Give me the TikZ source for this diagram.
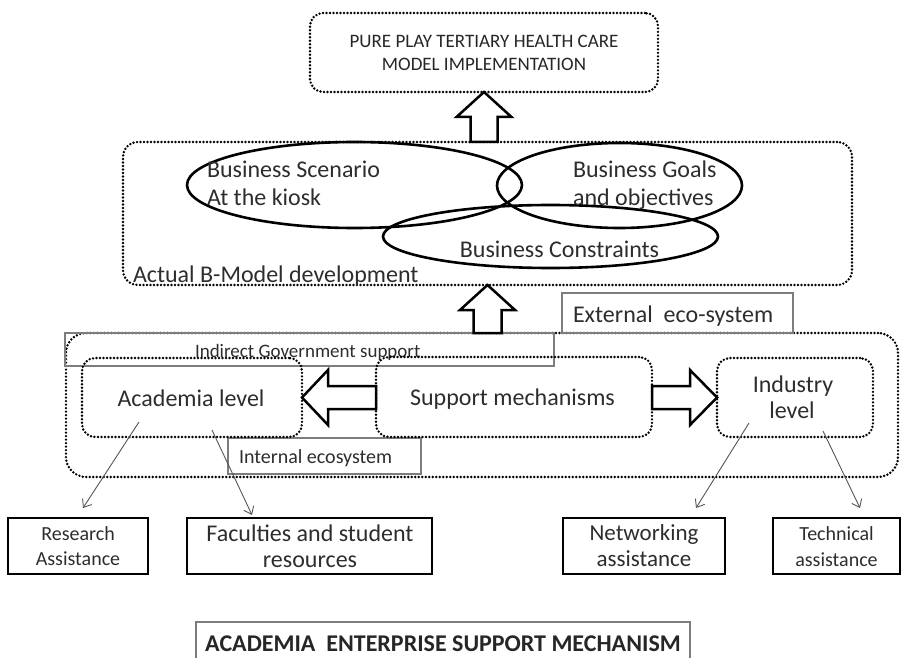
\documentclass[tikz,border=0pt]{standalone}
\usepackage{fontspec}
\setmainfont{Carlito}
\usetikzlibrary{arrows.meta,shapes.geometric,calc}
\definecolor{txt}{RGB}{45,45,45}
\definecolor{thin}{RGB}{125,125,125}
\definecolor{conn}{RGB}{85,85,85}
\begin{document}
\begin{tikzpicture}[x=1pt,y=-1pt,
  every node/.style={inner sep=0pt, outer sep=0pt, text=txt},
  dotbox/.style={draw=black, rectangle, rounded corners=13pt, line width=2.7pt,
     dash pattern=on 0pt off 3.5pt, line cap=round},
  thinbox/.style={draw=thin, rectangle, line width=1.1pt},
  solidbox/.style={draw=black, rectangle, line width=2.6pt},
  ell/.style={draw=black, ellipse, line width=2.6pt},
  harrow/.style={draw=black, line width=2.5pt, fill=white, line join=miter},
  conn/.style={draw=conn, line width=0.9pt, -{Straight Barb[length=7pt,width=11pt]}},
  f24/.style={font=\fontsize{24}{28}\selectfont},
  f20/.style={font=\fontsize{20}{24}\selectfont},
  f19/.style={font=\fontsize{19}{23}\selectfont},
]
\useasboundingbox (0,0) rectangle (902,658);

% top box
\node[dotbox, minimum width=348pt, minimum height=79pt] (top) at (484,52.5) {};
\node[f19, anchor=base, text=black!85] (top1) at (484,48) {PURE PLAY TERTIARY HEALTH CARE};
\node[f19, anchor=base, text=black!85] (top2) at (484,71) {MODEL IMPLEMENTATION};

% B-model box
\node[dotbox, rounded corners=15pt, minimum width=729pt, minimum height=143pt] (bmodel) at (487.5,213.5) {};
\node[ell, minimum width=335pt, minimum height=86pt] (e1) at (354.5,185) {};
\node[ell, minimum width=245pt, minimum height=85pt] (e2) at (619.5,185.5) {};
\node[ell, minimum width=335pt, minimum height=63pt] (e3) at (550.5,236.5) {};
\node[f24, anchor=base west] (bs1) at (207,177) {Business Scenario};
\node[f24, anchor=base west] (bs2) at (207,205) {At the kiosk};
\node[f24, anchor=base west] (bg1) at (573,177) {Business Goals};
\node[f24, anchor=base west] (bg2) at (573,205) {and objectives};
\node[f24, anchor=base] (bc) at (559.5,257) {Business Constraints};
\node[f24, anchor=base west] (bm) at (133,282) {Actual B-Model development};

% outer ecosystem
\node[dotbox, rounded corners=20pt, minimum width=832pt, minimum height=144pt] (outer) at (482,405) {};
\node[thinbox, minimum width=489pt, minimum height=33pt] (indirect) at (309.5,349.5) {};
\node[f19, anchor=base west] (indt) at (195,357) {Indirect Government support};
\node[thinbox, minimum width=231pt, minimum height=40pt] (external) at (677.5,313) {};
\node[f24, anchor=base west] (extt) at (573,322) {External\ \ eco-system};
\node[thinbox, minimum width=193pt, minimum height=36pt] (internal) at (324.5,456) {};
\node[f20, anchor=base west] (intt) at (239,463) {Internal ecosystem};

\node[dotbox, minimum width=220pt, minimum height=79pt] (academia) at (192,397.5) {};
\node[f24, anchor=base] (acat) at (191,406) {Academia level};
\node[dotbox, minimum width=276pt, minimum height=80pt] (support) at (514,397) {};
\node[f24, anchor=base] (supt) at (512.5,405) {Support mechanisms};
\node[dotbox, minimum width=156pt, minimum height=79pt] (industry) at (795,397.5) {};
\node[f24, anchor=base] (ind1) at (793,392) {Industry};
\node[f24, anchor=base] (ind2) at (792,418) {level};

% block arrows
\draw[harrow] (top.south) -- ++(27.5,25) -- ++(-14,0) -- ++(0,25) -- ++(-27,0) -- ++(0,-25) -- ++(-14,0) -- cycle;
\draw[harrow] (bmodel.south) -- ++(27.5,25) -- ++(-13.5,0) -- ++(0,23) -- ++(-28,0) -- ++(0,-23) -- ++(-13.5,0) -- cycle;
\draw[harrow] (academia.east) -- ++(26,-27.5) -- ++(0,16) -- ++(48,0) -- ++(0,23) -- ++(-48,0) -- ++(0,16) -- cycle;
\draw[harrow] (industry.west) -- ++(-27,-27.5) -- ++(0,16) -- ++(-38,0) -- ++(0,23) -- ++(38,0) -- ++(0,16) -- cycle;

% bottom boxes
\node[solidbox, minimum width=140pt, minimum height=56pt] (research) at (78,546) {};
\node[f20, anchor=base] (res1) at (78,540) {Research};
\node[f20, anchor=base] (res2) at (78,565) {Assistance};
\node[solidbox, minimum width=245pt, minimum height=56pt] (faculties) at (309.5,546) {};
\node[f24, anchor=base] (fac1) at (310,541) {Faculties and student};
\node[f24, anchor=base] (fac2) at (310,567) {resources};
\node[solidbox, minimum width=162pt, minimum height=56pt] (networking) at (644,546) {};
\node[font=\fontsize{23}{27}\selectfont, anchor=base] (net1) at (644,540) {Networking};
\node[font=\fontsize{23}{27}\selectfont, anchor=base] (net2) at (644,566) {assistance};
\node[solidbox, minimum width=127pt, minimum height=56pt] (technical) at (836.5,546) {};
\node[f20, anchor=base] (tec1) at (836.5,540) {Technical};
\node[f20, anchor=base] (tec2) at (836.5,566) {assistance};

% connectors
\coordinate (a1) at ($(academia.center)+(-53,24.5)$);
\coordinate (a2) at ($(academia.center)+(20,32.5)$);
\coordinate (i1) at ($(industry.center)+(-46,25.5)$);
\coordinate (i2) at ($(industry.center)+(28,33.5)$);
\draw[conn] (a1) -- ($(research.north)+(5,-10)$);
\draw[conn] (a2) -- ($(faculties.north)+(-57.5,-3)$);
\draw[conn] (i1) -- ($(networking.north)+(52,-10)$);
\draw[conn] (i2) -- ($(technical.north)+(23.5,-10)$);

% title
\node[draw=thin, line width=1.2pt, minimum width=494pt, minimum height=50pt] (titlebox) at (443,647) {};
\node[font=\fontsize{24}{28}\selectfont\bfseries, anchor=base, text=black!85] (title) at (443,651) {ACADEMIA\ \ ENTERPRISE SUPPORT MECHANISM};
\end{tikzpicture}
\end{document}
